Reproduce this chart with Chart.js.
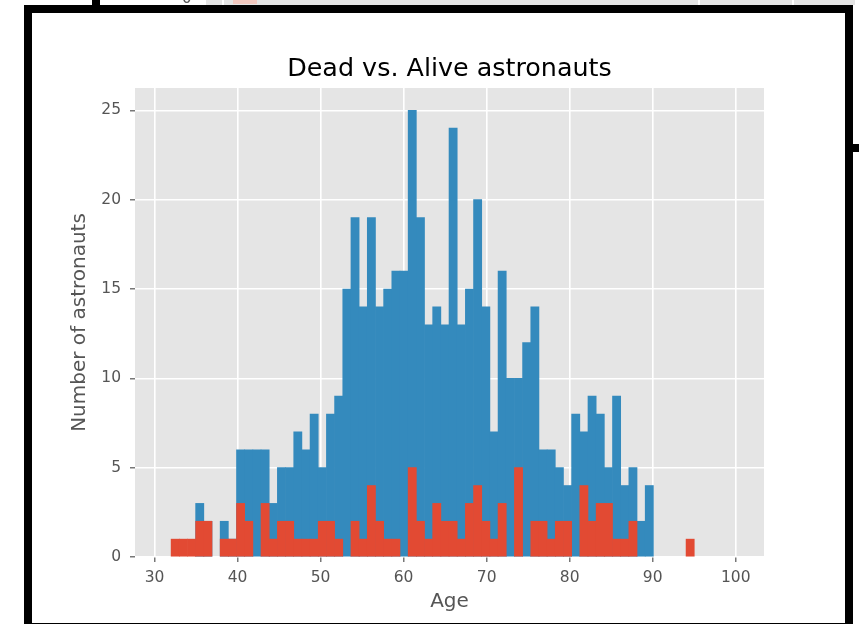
<!DOCTYPE html>
<html>
<head>
<meta charset="utf-8">
<script src="https://cdn.jsdelivr.net/npm/chart.js@4.4.1/dist/chart.umd.min.js"></script>
<style>
  body { margin: 0; background: #fff; }
  #wrap { position: relative; width: 859px; height: 624px; overflow: hidden; }
  #wrap canvas { position: absolute; left: 0; top: 0; }
  .blk { position: absolute; background: #000; }
</style>
</head>
<body>
<div id="wrap">
  <canvas id="astroChart" width="859" height="624"></canvas>
  <!-- leftovers of the notebook cell above and the frame round this one -->
  <div style="position:absolute;left:206px;top:0;width:649px;height:4.5px;background:#E5E5E5"></div>
  <div style="position:absolute;left:222px;top:0;width:1.6px;height:4.5px;background:#fff"></div>
  <div style="position:absolute;left:233px;top:0;width:24px;height:4px;background:#f2c9c0"></div>
  <div style="position:absolute;left:698px;top:0;width:1.6px;height:4.5px;background:#fff"></div>
  <div style="position:absolute;left:792px;top:0;width:1.6px;height:4.5px;background:#fff"></div>
  <div style="position:absolute;left:182px;top:-9px;font:15px 'DejaVu Sans';line-height:15px;color:#555">0</div>
  <div class="blk" style="left:92px;top:0;width:8px;height:5px"></div>
  <div class="blk" style="left:24px;top:5px;width:829px;height:8px"></div>
  <div class="blk" style="left:24px;top:5px;width:8px;height:619px"></div>
  <div class="blk" style="left:845px;top:5px;width:8px;height:619px"></div>
  <div class="blk" style="left:24px;top:622.5px;width:829px;height:1.5px"></div>
  <div class="blk" style="left:853px;top:144px;width:6px;height:7.5px"></div>
</div>
<script>
// both histograms share 64 bins between age 32 and 95
var binLow = 32;
var binHigh = 95;
var binCount = 64;

var aliveCounts = [
  0, 0, 0, 3, 2, 0, 2, 1, 6, 6,
  6, 6, 3, 5, 5, 7, 6, 8, 5, 8,
  9, 15, 19, 14, 19, 14, 15, 16, 16, 25,
  19, 13, 14, 13, 24, 13, 15, 20, 14, 7,
  16, 10, 10, 12, 14, 6, 6, 5, 4, 8,
  7, 9, 8, 5, 9, 4, 5, 2, 4, 0,
  0, 0, 0, 0
];
var deadCounts = [
  1, 1, 1, 2, 2, 0, 1, 1, 3, 2,
  0, 3, 1, 2, 2, 1, 1, 1, 2, 2,
  1, 0, 2, 1, 4, 2, 1, 1, 0, 5,
  2, 1, 3, 2, 2, 1, 3, 4, 2, 1,
  3, 0, 5, 0, 2, 2, 1, 2, 2, 0,
  4, 2, 3, 3, 1, 1, 2, 0, 0, 0,
  0, 0, 0, 1
];

var xTicks = [30, 40, 50, 60, 70, 80, 90, 100];
var yTicks = [0, 5, 10, 15, 20, 25];
var chartTitle = 'Dead vs. Alive astronauts';

var binWidth = (binHigh - binLow) / binCount;
// empty bins become null so no hairline is drawn for them
function toPoints(counts) {
  return counts.map(function (c, i) {
    return { x: binLow + (i + 0.5) * binWidth, y: c === 0 ? null : c };
  });
}

// grey ggplot panel behind the grid, title centred over the panel (like matplotlib)
var panelBg = {
  id: 'panelBg',
  beforeDraw: function (chart) {
    var a = chart.chartArea, ctx = chart.ctx;
    ctx.save();
    ctx.fillStyle = '#fff';
    ctx.fillRect(0, 0, chart.width, chart.height);
    ctx.fillStyle = '#E5E5E5';
    ctx.fillRect(a.left, a.top, a.right - a.left, a.bottom - a.top);
    ctx.restore();
  },
  afterDraw: function (chart) {
    var a = chart.chartArea, ctx = chart.ctx;
    ctx.save();
    ctx.fillStyle = '#000';
    ctx.font = '25.4px "DejaVu Sans"';
    ctx.textAlign = 'center';
    ctx.textBaseline = 'alphabetic';
    ctx.fillText(chartTitle, (a.left + a.right) / 2, a.top - 12.3);
    ctx.restore();
  }
};

var tickFont = { family: 'DejaVu Sans', size: 15.5 };
var labelFont = { family: 'DejaVu Sans', size: 20 };
var gridOpts = { color: '#fff', lineWidth: 1.6, tickColor: '#555', tickLength: 5, tickWidth: 1.2, offset: false };

var chart = new Chart(document.getElementById('astroChart'), {
  type: 'bar',
  data: {
    datasets: [
      { label: 'Alive', data: toPoints(aliveCounts), backgroundColor: '#348ABD', order: 1 },
      { label: 'Dead', data: toPoints(deadCounts), backgroundColor: '#E24A33', order: 0 }
    ]
  },
  options: {
    responsive: false,
    animation: false,
    layout: { padding: { left: 68, right: 95, top: 88, bottom: 10.6 } },
    datasets: {
      bar: { grouped: false, barPercentage: 1, categoryPercentage: 1, borderWidth: 0 }
    },
    plugins: {
      legend: { display: false },
      tooltip: { enabled: false },
      title: { display: false }
    },
    scales: {
      x: {
        type: 'linear',
        min: 27.65,
        max: 103.4,
        offset: false,
        grid: gridOpts,
        border: { display: false },
        afterBuildTicks: function (s) { s.ticks = xTicks.map(function (v) { return { value: v }; }); },
        afterFit: function (s) { s.height = 56.4; },
        ticks: { color: '#555', font: tickFont, padding: 6.2, maxRotation: 0, autoSkip: false },
        title: { display: true, text: 'Age', color: '#555', font: labelFont, padding: { top: 0, bottom: 0 } }
      },
      y: {
        min: 0,
        max: 26.25,
        grid: gridOpts,
        border: { display: false },
        afterBuildTicks: function (s) { s.ticks = yTicks.map(function (v) { return { value: v }; }); },
        afterFit: function (s) { s.width = 67; },
        ticks: { color: '#555', font: tickFont, padding: 9 },
        title: { display: true, text: 'Number of astronauts', color: '#555', font: labelFont, padding: { top: 0, bottom: 0 } }
      }
    }
  },
  plugins: [panelBg]
});
</script>
</body>
</html>
